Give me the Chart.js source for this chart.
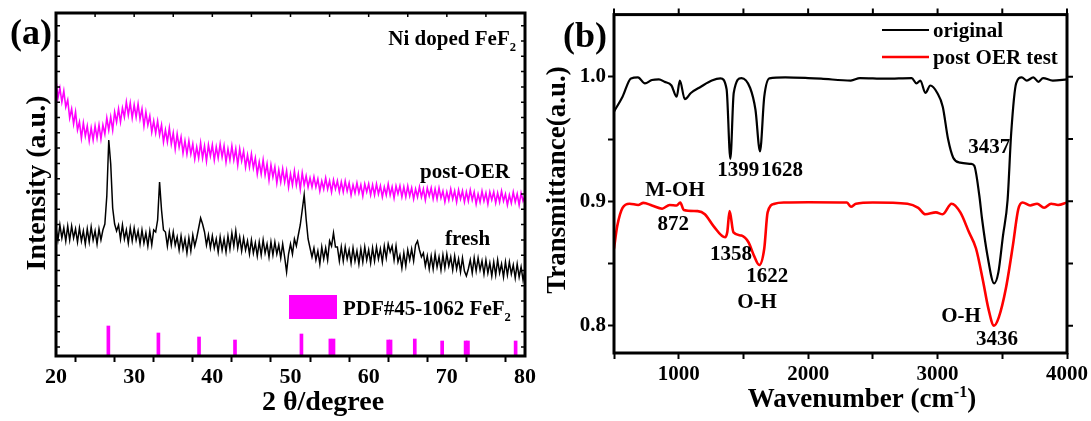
<!DOCTYPE html>
<html>
<head>
<meta charset="utf-8">
<title>Ni doped FeF2 - XRD and FTIR</title>
<script src="https://cdn.jsdelivr.net/npm/chart.js@4.4.0/dist/chart.umd.min.js"></script>
<style>
  html, body { margin: 0; padding: 0; background: #fff; }
  #wrap { position: relative; width: 1091px; height: 421px; overflow: hidden; }
  #xrdChart { position: absolute; left: 0; top: 0; }
  #ftirChart { position: absolute; left: 540px; top: 0; }
</style>
</head>
<body>
<div id="wrap">
  <canvas id="xrdChart" width="540" height="421"></canvas>
  <canvas id="ftirChart" width="551" height="421"></canvas>
</div>
<script>
// ---------- (a) XRD ----------
// scan grid: 20-80 deg, 0.25 deg per step, one row of 4 steps per degree
const XRD_START = 20;
const XRD_STEP = 0.25;

const postOerCounts = [
  276, 258, 268, 254,  265, 249, 256, 238,  247, 232, 244, 226,  234, 218, 233, 220,
  230, 215, 228, 216,  230, 218, 231, 217,  231, 222, 238, 226,  239, 226, 244, 234,
  247, 234, 248, 239,  254, 241, 253, 238,  251, 239, 252, 237,  247, 230, 244, 231,
  240, 224, 235, 223,  235, 221, 231, 214,  226, 214, 228, 212,  223, 207, 222, 209,
  219, 203, 215, 202,  215, 202, 212, 197,  209, 198, 213, 198,  210, 195, 211, 200,
  211, 196, 209, 198,  212, 199, 210, 194,  207, 196, 210, 196,  207, 191, 207, 195,
  205, 189, 201, 189,  202, 188, 198, 182,  194, 182, 196, 181,  192, 176, 191, 179,
  189, 173, 186, 174,  187, 174, 185, 169,  182, 171, 185, 171,  182, 167, 183, 171,
  180, 169, 178, 169,  179, 169, 177, 165,  175, 167, 178, 167,  175, 164, 176, 167,
  175, 164, 174, 164,  175, 165, 173, 161,  171, 163, 173, 163,  171, 160, 172, 164,
  172, 161, 171, 161,  172, 162, 170, 159,  169, 161, 172, 161,  169, 158, 170, 162,
  170, 159, 169, 159,  170, 160, 168, 157,  167, 159, 169, 159,  167, 156, 168, 160,
  168, 157, 167, 157,  168, 158, 165, 154,  164, 156, 167, 157,  165, 154, 166, 157,
  165, 154, 164, 155,  166, 156, 164, 152,  162, 154, 165, 155,  163, 152, 164, 156,
  164, 153, 163, 154,  165, 155, 162, 151,  161, 153, 164, 154,  162, 151, 163, 155,
  160
];

const freshCounts = [
  129, 116, 131, 118,  128, 115, 130, 116,  130, 118, 127, 114,  128, 115, 125, 112,
  127, 114, 129, 116,  125, 112, 127, 116,  126, 132, 160, 216,  192, 148, 132, 125,
  131, 117, 131, 117,  126, 113, 128, 115,  128, 116, 125, 112,  126, 113, 123, 110,
  125, 111, 126, 124,  136, 174, 146, 126,  124, 110, 124, 111,  124, 111, 119, 106,
  120, 107, 117, 103,  118, 105, 121, 110,  118, 128, 138, 132,  124, 111, 121, 108,
  120, 108, 117, 104,  119, 106, 117, 104,  120, 107, 123, 110,  125, 108, 119, 105,
  118, 106, 115, 102,  116, 103, 113, 100,  114, 101, 116, 103,  112,  99, 114, 101,
  114, 102, 111,  98,  112,  99,  84, 102,  112, 102, 117, 110,  121, 131, 146, 161,
  137, 117, 108,  99,  108,  96, 105,  92,  109,  97, 108,  96,  115, 110, 123, 109,
  109,  95, 109,  95,  109,  97, 106,  93,  108,  95, 105,  92,  107,  94, 109,  96,
  106,  93, 108,  95,  109,  97, 107,  94,  110,  98, 112, 104,  110,  96, 110,  94,
  101,  88, 103,  90,  106,  96, 107,  95,  111, 115, 106,  99,  103,  90, 100,  87,
  100,  87, 102,  89,   99,  86, 101,  88,  102,  90,  99,  86,  100,  87,  97,  84,
   98,  85,  80,  87,   96,  83,  98,  85,   98,  86,  95,  82,   96,  83,  93,  80,
   94,  81,  96,  83,   92,  79,  94,  81,   94,  82,  91,  78,   92,  79,  89,  76,
   86
];

// PDF#45-1062 FeF2 reference lines
const pdfAngles  = [26.7, 33.1, 38.3, 42.9, 51.4, 55.1, 55.5, 62.5, 62.8, 65.9, 69.4, 72.4, 72.7, 78.8];
const pdfHeights = [30, 23, 19, 16, 22, 17, 17, 16, 16, 17, 15, 15, 15, 15];

const xrdTickLabels = [20, 30, 40, 50, 60, 70, 80];

// ---------- (b) FTIR ----------
const originalWn = [500, 566, 631, 685, 739, 793, 847, 890, 944, 984, 1009, 1047, 1094, 1171, 1256,
  1323, 1370, 1399, 1425, 1485, 1552, 1593, 1628, 1661, 1701, 1823, 2000, 2100, 2330, 2400, 2600,
  2800, 2837, 2867, 2906, 2944, 2998, 3040, 3081, 3121, 3175, 3257, 3283, 3322, 3344, 3385, 3437,
  3470, 3505, 3541, 3569, 3607, 3650, 3690, 3740, 3780, 3815, 3890, 4000];
const originalT = [0.972, 0.984, 0.9987, 0.9995, 0.9947, 0.9974, 0.998, 0.996, 0.993, 0.984, 0.997,
  0.982, 0.987, 0.992, 0.997, 0.9987, 0.990, 0.934, 0.987, 0.999, 0.991, 0.9735, 0.940, 0.984,
  0.9987, 0.9995, 0.999, 0.9985, 0.997, 0.999, 0.9985, 0.999, 0.9947, 0.997, 0.987, 0.993, 0.987,
  0.976, 0.950, 0.935, 0.931, 0.930, 0.9286, 0.905, 0.8855, 0.8566, 0.834, 0.843, 0.872, 0.901,
  0.955, 0.9947, 0.9995, 0.997, 0.9995, 0.996, 0.999, 0.997, 0.998];

const postOerWn = [500, 525, 566, 620, 687, 727, 793, 872, 930, 984, 1012, 1039, 1147, 1202, 1269,
  1358, 1375, 1393, 1423, 1485, 1539, 1580, 1622, 1661, 1687, 1741, 1823, 2000, 2300, 2330, 2370,
  2500, 2767, 2851, 2906, 2987, 3040, 3108, 3176, 3243, 3297, 3352, 3391, 3436, 3473, 3528, 3582,
  3623, 3657, 3715, 3769, 3823, 3877, 3931, 4000];
const postOerT = [0.862, 0.880, 0.8947, 0.898, 0.897, 0.8987, 0.8966, 0.894, 0.897, 0.8966, 0.899,
  0.893, 0.892, 0.8895, 0.880, 0.871, 0.875, 0.892, 0.875, 0.8724, 0.867, 0.8566, 0.8487, 0.862,
  0.891, 0.898, 0.899, 0.8992, 0.899, 0.8955, 0.898, 0.899, 0.898, 0.8947, 0.8895, 0.891, 0.8895,
  0.898, 0.891, 0.875, 0.862, 0.8355, 0.8145, 0.800, 0.8066, 0.830, 0.8645, 0.8934, 0.899, 0.8966,
  0.898, 0.8947, 0.898, 0.897, 0.899];

const wnTickLabels = [1000, 2000, 3000, 4000];
const transTicks = [0.8, 0.85, 0.9, 0.95, 1.0];
const transTickLabels = ['0.8', '', '0.9', '', '1.0'];

// ---------- helpers ----------
const SERIF = '"Liberation Serif", "Times New Roman", serif';
Chart.defaults.font.family = SERIF;
Chart.defaults.font.weight = 'bold';
Chart.defaults.color = '#000';

const twoTheta = postOerCounts.map((_, i) => XRD_START + i * XRD_STEP);
const toPoints = (xs, ys) => xs.map((x, i) => ({ x: x, y: ys[i] }));

// text with optional sub/superscript pieces
function richText(ctx, parts, x, y, size, align) {
  const pieces = parts.map((p) => {
    const s = p.sub || p.sup ? size * 0.6 : size;
    ctx.font = `bold ${s}px ${SERIF}`;
    return {
      t: p.t,
      s: s,
      w: ctx.measureText(p.t).width,
      dy: p.sub ? size * 0.3 : p.sup ? -size * 0.38 : 0,
    };
  });
  const total = pieces.reduce((sum, p) => sum + p.w, 0);
  let cx = align === "center" ? x - total / 2 : align === "right" ? x - total : x;
  ctx.textAlign = "left";
  ctx.textBaseline = "alphabetic";
  pieces.forEach((p) => {
    ctx.font = `bold ${p.s}px ${SERIF}`;
    ctx.fillText(p.t, cx, y + p.dy);
    cx += p.w;
  });
}

// closed frame with mirrored tick marks on the top and right edges
function makeFrame(cfg) {
  return {
    id: "frame",
    afterDatasetsDraw(chart) {
      const { ctx, chartArea: a } = chart;
      const xs = chart.scales.x;
      const ys = chart.scales.y;
      const len = cfg.tickLength;
      const dir = cfg.inward ? 1 : -1;
      ctx.save();
      ctx.strokeStyle = "#000";
      ctx.lineWidth = cfg.tickWidth;
      ctx.beginPath();
      xs.ticks.forEach((t) => {
        const px = xs.getPixelForValue(t.value);
        ctx.moveTo(px, a.top);
        ctx.lineTo(px, a.top + dir * len);
      });
      ys.ticks.forEach((t) => {
        const py = ys.getPixelForValue(t.value);
        ctx.moveTo(a.right, py);
        ctx.lineTo(a.right - dir * len, py);
        if (cfg.inward) {
          ctx.moveTo(a.left, py);
          ctx.lineTo(a.left + len, py);
        }
      });
      ctx.stroke();
      ctx.lineWidth = cfg.borderWidth;
      ctx.strokeRect(a.left, a.top, a.right - a.left, a.bottom - a.top);
      ctx.restore();
    },
  };
}

// panel letters, axis titles, in-plot notes and legend keys
function makeNotes(cfg) {
  return {
    id: "notes",
    afterDraw(chart) {
      const { ctx } = chart;
      ctx.save();
      cfg.keys.forEach((k) => {
        if (k.rect) {
          ctx.fillStyle = k.color;
          ctx.fillRect(k.rect[0], k.rect[1], k.rect[2], k.rect[3]);
        } else {
          ctx.strokeStyle = k.color;
          ctx.lineWidth = k.width;
          ctx.beginPath();
          ctx.moveTo(k.line[0], k.line[1]);
          ctx.lineTo(k.line[2], k.line[1]);
          ctx.stroke();
        }
      });
      ctx.fillStyle = "#000";
      cfg.items.forEach((item) => {
        let x = item.x;
        if (item.at !== undefined) {
          x = chart.scales.x.getPixelForValue(item.at) + (item.dx || 0);
        }
        if (item.rotate) {
          ctx.save();
          ctx.translate(x, item.y);
          ctx.rotate(-Math.PI / 2);
          richText(ctx, item.parts, 0, item.size * 0.33, item.size, "center");
          ctx.restore();
        } else {
          richText(ctx, item.parts, x, item.y, item.size, item.align || "center");
        }
      });
      ctx.restore();
    },
  };
}

// ---------- (a) XRD chart ----------
new Chart(document.getElementById("xrdChart"), {
  type: "line",
  data: {
    datasets: [
      {
        label: "post-OER",
        data: toPoints(twoTheta, postOerCounts),
        borderColor: "#ff00ff",
        borderWidth: 1.6,
        pointRadius: 0,
      },
      {
        label: "fresh",
        data: toPoints(twoTheta, freshCounts),
        borderColor: "#000000",
        borderWidth: 1.5,
        pointRadius: 0,
      },
      {
        type: "bar",
        label: "PDF#45-1062 FeF2",
        data: toPoints(pdfAngles, pdfHeights),
        backgroundColor: "#ff00ff",
        barThickness: 3,
      },
    ],
  },
  options: {
    responsive: false,
    animation: false,
    layout: { padding: { top: 13, right: 15, left: 0, bottom: 0 } },
    plugins: { legend: { display: false }, tooltip: { enabled: false } },
    scales: {
      x: {
        type: "linear",
        min: 20,
        max: 80,
        offset: false,
        afterFit: (s) => { s.height = 65; },
        ticks: {
          stepSize: 5,
          autoSkip: false,
          maxRotation: 0,
          padding: 2,
          font: { size: 22, weight: "bold" },
          callback: (v) => (xrdTickLabels.includes(v) ? String(v) : ""),
        },
        grid: { drawOnChartArea: false, drawTicks: true, tickLength: 6, tickWidth: 2, color: "#000" },
        border: { display: false },
      },
      y: {
        type: "linear",
        min: 0,
        max: 343,
        afterFit: (s) => { s.width = 56; },
        afterBuildTicks: (s) => {
          const ticks = [];
          for (let v = 9; v < 343; v += 15.3) ticks.push({ value: v });
          s.ticks = ticks;
        },
        ticks: { display: false },
        grid: { display: false },
        border: { display: false },
      },
    },
  },
  plugins: [
    makeFrame({ tickLength: 4, tickWidth: 1.5, borderWidth: 3, inward: true }),
    makeNotes({
      keys: [{ rect: [289, 295, 48, 24], color: "#ff00ff" }],
      items: [
        { parts: [{ t: "(a)" }], x: 10, y: 44, size: 36, align: "left" },
        { parts: [{ t: "Ni doped FeF" }, { t: "2", sub: true }], x: 516, y: 45, size: 21, align: "right" },
        { parts: [{ t: "post-OER" }], x: 420, y: 178, size: 21, align: "left" },
        { parts: [{ t: "fresh" }], x: 445, y: 245, size: 21, align: "left" },
        { parts: [{ t: "PDF#45-1062 FeF" }, { t: "2", sub: true }], x: 343, y: 315, size: 21, align: "left" },
        { parts: [{ t: "2 θ/degree" }], x: 323, y: 410, size: 28 },
        { parts: [{ t: "Intensity (a.u.)" }], x: 36, y: 183, size: 28, rotate: true },
      ],
    }),
  ],
});

// ---------- (b) FTIR chart ----------
new Chart(document.getElementById("ftirChart"), {
  type: "line",
  data: {
    datasets: [
      {
        label: "original",
        data: toPoints(originalWn, originalT),
        borderColor: "#000000",
        borderWidth: 2.2,
        pointRadius: 0,
        cubicInterpolationMode: "monotone",
      },
      {
        label: "post OER test",
        data: toPoints(postOerWn, postOerT),
        borderColor: "#ff0000",
        borderWidth: 2.6,
        pointRadius: 0,
        cubicInterpolationMode: "monotone",
      },
    ],
  },
  options: {
    responsive: false,
    animation: false,
    layout: { padding: { top: 14, right: 24, left: 0, bottom: 0 } },
    plugins: { legend: { display: false }, tooltip: { enabled: false } },
    scales: {
      x: {
        type: "linear",
        min: 500,
        max: 4000,
        offset: false,
        afterFit: (s) => { s.height = 68; },
        ticks: {
          stepSize: 500,
          autoSkip: false,
          maxRotation: 0,
          padding: 3,
          font: { size: 21, weight: "bold" },
          callback: (v) => (wnTickLabels.includes(v) ? String(v) : ""),
        },
        grid: { drawOnChartArea: false, drawTicks: true, tickLength: 6, tickWidth: 2, color: "#000" },
        border: { display: false },
      },
      y: {
        type: "linear",
        min: 0.778,
        max: 1.05,
        afterFit: (s) => { s.width = 74; },
        afterBuildTicks: (s) => {
          s.ticks = transTicks.map((v) => ({ value: v }));
        },
        ticks: {
          autoSkip: false,
          padding: 2,
          font: { size: 21, weight: "bold" },
          callback: (v, i) => transTickLabels[i],
        },
        grid: { drawOnChartArea: false, drawTicks: true, tickLength: 6, tickWidth: 2, color: "#000" },
        border: { display: false },
      },
    },
  },
  plugins: [
    makeFrame({ tickLength: 6, tickWidth: 2, borderWidth: 3, inward: false }),
    makeNotes({
      keys: [
        { line: [342, 30, 389], color: "#000000", width: 2.2 },
        { line: [342, 57, 389], color: "#ff0000", width: 2.6 },
      ],
      items: [
        { parts: [{ t: "(b)" }], x: 23, y: 47, size: 36, align: "left" },
        { parts: [{ t: "original" }], x: 393, y: 37, size: 21, align: "left" },
        { parts: [{ t: "post OER test" }], x: 393, y: 64, size: 21, align: "left" },
        { parts: [{ t: "1399" }], at: 1399, dx: 8, y: 176, size: 21 },
        { parts: [{ t: "1628" }], at: 1628, dx: 22, y: 176, size: 21 },
        { parts: [{ t: "3437" }], at: 3437, dx: -5, y: 153, size: 21 },
        { parts: [{ t: "M-OH" }], x: 135, y: 196, size: 21 },
        { parts: [{ t: "872" }], at: 872, dx: 11, y: 230, size: 21 },
        { parts: [{ t: "1358" }], at: 1358, dx: 6, y: 260, size: 21 },
        { parts: [{ t: "1622" }], at: 1622, dx: 8, y: 282, size: 21 },
        { parts: [{ t: "O-H" }], x: 217, y: 308, size: 21 },
        { parts: [{ t: "O-H" }], x: 421, y: 322, size: 21 },
        { parts: [{ t: "3436" }], at: 3436, dx: 3, y: 345, size: 21 },
        { parts: [{ t: "Wavenumber (cm" }, { t: "-1", sup: true }, { t: ")" }], x: 322, y: 407, size: 27 },
        { parts: [{ t: "Transmittance(a.u.)" }], x: 16, y: 180, size: 27, rotate: true },
      ],
    }),
  ],
});
</script>
</body>
</html>
